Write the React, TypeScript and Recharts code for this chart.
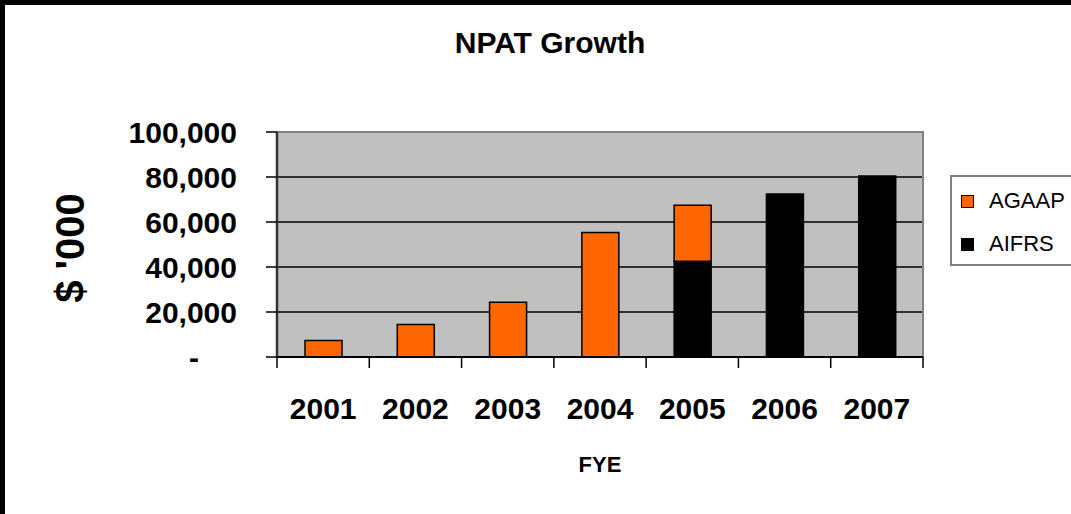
import React from 'react';
import { BarChart, Bar, XAxis, YAxis, CartesianGrid, ReferenceArea } from 'recharts';

const years = ['2001', '2002', '2003', '2004', '2005', '2006', '2007'];
const agaap = [7300, 14400, 24300, 55300, 24800, 0, 0];
const aifrs = [0, 0, 0, 0, 42600, 72400, 80400];
const yTicks = [0, 20000, 40000, 60000, 80000, 100000];
const gridValues = [20000, 40000, 60000, 80000];

const data = years.map((year, i) => ({ year, AGAAP: agaap[i], AIFRS: aifrs[i] }));

const FONT = '"Liberation Sans", Arial, sans-serif';
const ORANGE = '#ff6600';
const TICK = 11;

// legend order as shown in the original (top series first)
const legendItems = [
    { name: 'AGAAP', color: ORANGE },
    { name: 'AIFRS', color: '#000' },
];

const YTick = (props: any) => {
    const { x, y, payload } = props;
    const v = payload.value;
    return (
        <text x={v === 0 ? x - 38 : x} y={y} dy={11} textAnchor="end" fontFamily={FONT} fontWeight="bold" fontSize={30} fill="#000">
            {v === 0 ? '-' : Number(v).toLocaleString('en-US')}
        </text>
    );
};

const XTick = (props: any) => {
    const { x, y, payload, index } = props;
    const half = payload.offset ?? 646 / years.length / 2;
    return (
        <g>
            <line x1={x - half} x2={x - half} y1={y - TICK} y2={y} stroke="#000" strokeWidth={1.5} />
            {index === years.length - 1 && (
                <line x1={x + half} x2={x + half} y1={y - TICK} y2={y} stroke="#000" strokeWidth={1.5} />
            )}
            <text x={x} y={y} dy={51} textAnchor="middle" fontFamily={FONT} fontWeight="bold" fontSize={30} fill="#000">
                {payload.value}
            </text>
        </g>
    );
};

export default function App() {
    return (
        <div style={{ position: 'fixed', left: 0, top: 0, width: 1071, height: 514, background: '#fff', overflow: 'hidden', fontFamily: FONT }}>
            {/* frame */}
            <div style={{ position: 'absolute', left: 0, top: 0, width: 1071, height: 5, background: '#000' }} />
            <div style={{ position: 'absolute', left: 0, top: 0, width: 5, height: 514, background: '#000' }} />

            <div style={{ position: 'absolute', left: 350, top: 28, width: 400, textAlign: 'center', fontSize: 30, fontWeight: 'bold', lineHeight: '30px' }}>
                NPAT Growth
            </div>

            <div style={{ position: 'absolute', left: 70, top: 248, transform: 'translate(-50%, -50%) rotate(-90deg)', fontSize: 40, fontWeight: 'bold', lineHeight: 1, whiteSpace: 'nowrap' }}>
                $ '000
            </div>

            <div style={{ position: 'absolute', left: 500, top: 454, width: 200, textAlign: 'center', fontSize: 22, fontWeight: 'bold', lineHeight: '22px' }}>
                FYE
            </div>

            <div style={{ position: 'absolute', left: 0, top: 0 }}>
                <BarChart width={1071} height={514} data={data} margin={{ top: 132, right: 148, bottom: 97, left: 0 }} barSize={37}>
                    <CartesianGrid vertical={false} fill="#c0c0c0" stroke="#000" strokeWidth={1.5} horizontalValues={gridValues} />
                    <ReferenceArea y1={0} y2={100000} fill="none" stroke="#808080" strokeWidth={2} ifOverflow="visible" />
                    <Bar dataKey="AIFRS" stackId="a" fill="#000" stroke="#000" strokeWidth={1.5} isAnimationActive={false} />
                    <Bar dataKey="AGAAP" stackId="a" fill={ORANGE} stroke="#000" strokeWidth={1.5} isAnimationActive={false} />
                    <XAxis dataKey="year" height={60} tickLine={false} tickSize={TICK} tickMargin={0} tick={<XTick />} axisLine={{ stroke: '#000', strokeWidth: 2 }} interval={0} />
                    <YAxis width={277} domain={[0, 100000]} ticks={yTicks} interval={0} tickSize={TICK} tickMargin={29} tick={<YTick />} tickLine={{ stroke: '#000', strokeWidth: 1.5 }} axisLine={{ stroke: '#333', strokeWidth: 2.5 }} />
                </BarChart>
            </div>

            {/* legend */}
            <div style={{ position: 'absolute', left: 950, top: 175, border: '2px solid #808080', width: 150, height: 87, background: '#fff' }}>
                {legendItems.map((item, i) => (
                    <div key={item.name} style={{ position: 'absolute', left: 9, top: 12 + i * 43, display: 'flex', alignItems: 'center', gap: 15, fontSize: 22, lineHeight: '24px', color: '#000' }}>
                        <div style={{ width: 11, height: 11, background: item.color, border: '1.5px solid #000' }} />
                        {item.name}
                    </div>
                ))}
            </div>
        </div>
    );
}
